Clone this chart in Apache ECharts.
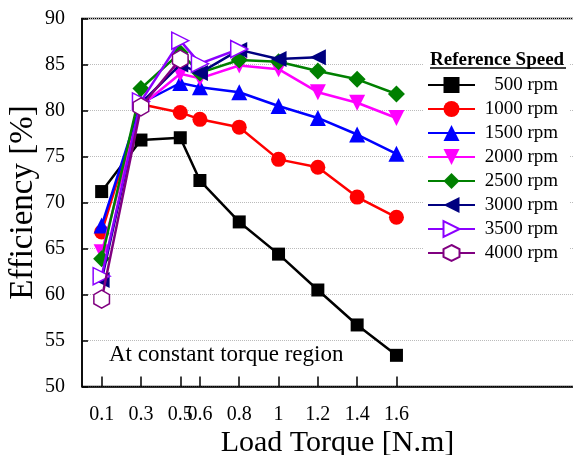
<!DOCTYPE html>
<html><head><meta charset="utf-8">
<script src="https://cdn.jsdelivr.net/npm/echarts@6/dist/echarts.min.js"></script>
<style>html,body{margin:0;padding:0;background:#fff}#c{width:573px;height:455px}</style>
</head><body><div id="c"></div>
<script>
var torque = [0.1, 0.3, 0.5, 0.6, 0.8, 1.0, 1.2, 1.4, 1.6];
var speedNames = ['500 rpm','1000 rpm','1500 rpm','2000 rpm','2500 rpm','3000 rpm','3500 rpm','4000 rpm'];
var eff500  = [71.2, 76.8, 77.05, 72.4, 67.9, 64.4, 60.5, 56.7, 53.4];
var eff1000 = [66.8, 80.7, 79.8, 79.05, 78.2, 74.7, 73.85, 70.6, 68.4];
var eff1500 = [67.5, 80.8, 83.0, 82.55, 82.0, 80.5, 79.2, 77.4, 75.3];
var eff2000 = [64.6, 80.5, 84.0, 83.5, 84.9, 84.5, 82.0, 80.85, 79.2];
var eff2500 = [63.9, 82.4, 86.3, 84.1, 85.5, 85.3, 84.3, 83.4, 81.8];
var eff3000 = [61.6, 80.8, 85.0, 84.1, 86.6, 85.6, 85.8];
var eff3500 = [62.0, 81.0, 87.6, 85.1, 86.7];
var eff4000 = [59.5, 80.4, 85.6];
var yTicks = [50, 55, 60, 65, 70, 75, 80, 85, 90];

var FONT = "'Liberation Serif','Times New Roman',serif";
var hexPath = 'path://M0,-10L8.66,-5L8.66,5L0,10L-8.66,5L-8.66,-5Z';
var styles = [
  {color:'#000000', symbol:'rect', size:13, rot:0, open:false},
  {color:'#ff0000', symbol:'circle', size:15, rot:0, open:false},
  {color:'#0000ff', symbol:'triangle', size:16, rot:0, open:false},
  {color:'#ff00ff', symbol:'triangle', size:16, rot:180, open:false},
  {color:'#008000', symbol:'diamond', size:17, rot:0, open:false},
  {color:'#000080', symbol:'triangle', size:16, rot:90, open:false},
  {color:'#8b00ff', symbol:'triangle', size:17, rot:-90, open:true},
  {color:'#800080', symbol:hexPath, size:18, rot:0, open:true}
];
var allData = [eff500, eff1000, eff1500, eff2000, eff2500, eff3000, eff3500, eff4000];

var series = allData.map(function(vals, i){
  var s = styles[i];
  return {
    name: speedNames[i], type:'line',
    data: vals.map(function(v, j){ return [torque[j], v]; }),
    symbol: s.symbol, symbolSize: s.size, symbolRotate: s.rot, symbolKeepAspect: true,
    lineStyle: {color: s.color, width: 2.5},
    itemStyle: s.open ? {color:'#ffffff', borderColor: s.color, borderWidth: 1.5} : {color: s.color},
    emphasis: {disabled: true},
    z: 2 + i
  };
});

var chart = echarts.init(document.getElementById('c'), null, {renderer:'canvas'});
chart.setOption({
  animation: false,
  backgroundColor: '#fff',
  textStyle: {fontFamily: FONT},
  grid: {left: 82, top: 18.6, right: -20, bottom: 68.4, outerBoundsMode: 'none', containLabel: false,
    show: true, borderColor: '#000', borderWidth: 1.5, backgroundColor: 'transparent'},
  xAxis: {
    type: 'value', min: 0, max: 2.6,
    name: 'Load Torque [N.m]', nameLocation: 'middle', nameGap: 42, nameMoveOverlap: false,
    nameTextStyle: {fontFamily: FONT, fontSize: 30, color: '#000'},
    axisLine: {lineStyle: {color:'#000', width: 1.5}},
    axisTick: {inside: true, length: 10, lineStyle: {color:'#000', width: 1.5}, customValues: torque},
    axisLabel: {customValues: torque, fontFamily: FONT, fontSize: 20, color:'#000', margin: 18,
      formatter: function(v){ return String(v); }},
    splitLine: {show: false}
  },
  yAxis: {
    type: 'value', min: 50, max: 90, interval: 5,
    name: 'Efficiency [%]', nameLocation: 'middle', nameGap: 42, nameMoveOverlap: false,
    nameTextStyle: {fontFamily: FONT, fontSize: 33, color: '#000'},
    axisLine: {lineStyle: {color:'#000', width: 1.5}},
    axisTick: {inside: true, length: 6, lineStyle: {color:'#000', width: 1.5}},
    axisLabel: {fontFamily: FONT, fontSize: 20, color:'#000', margin: 17},
    splitLine: {show: true, lineStyle: {color:'#bbbbbb', type:'dotted', width: 1}}
  },
  legend: {
    orient: 'vertical', left: 427, top: 75.5, padding: 0,
    itemWidth: 47, itemHeight: 20, itemGap: 5,
    symbolRotate: 'inherit',
    data: speedNames,
    formatter: function(n){ return '{a|' + n + '}'; },
    textStyle: {fontFamily: FONT, fontSize: 19, color: '#000',
      rich: {a: {fontFamily: FONT, fontSize: 19, color:'#000', width: 78, align: 'right'}}}
  },
  graphic: [
    {type:'rect', z: 1, shape:{x: 423, y: 42, width: 146, height: 226}, style:{fill:'#fff'}},
    {type:'text', z: 10, x: 430, y: 60, style:{text:'Reference Speed', font:'bold 19px ' + FONT, fill:'#000', textVerticalAlign:'middle', verticalAlign:'middle'}},
    {type:'line', z: 10, shape:{x1: 430, y1: 68, x2: 566, y2: 68}, style:{stroke:'#000', lineWidth: 1.5}},
    {type:'text', z: 10, x: 109, y: 355, style:{text:'At constant torque region', font:'23px ' + FONT, fill:'#000', verticalAlign:'middle', textVerticalAlign:'middle'}}
  ],
  series: series
});
</script></body></html>
